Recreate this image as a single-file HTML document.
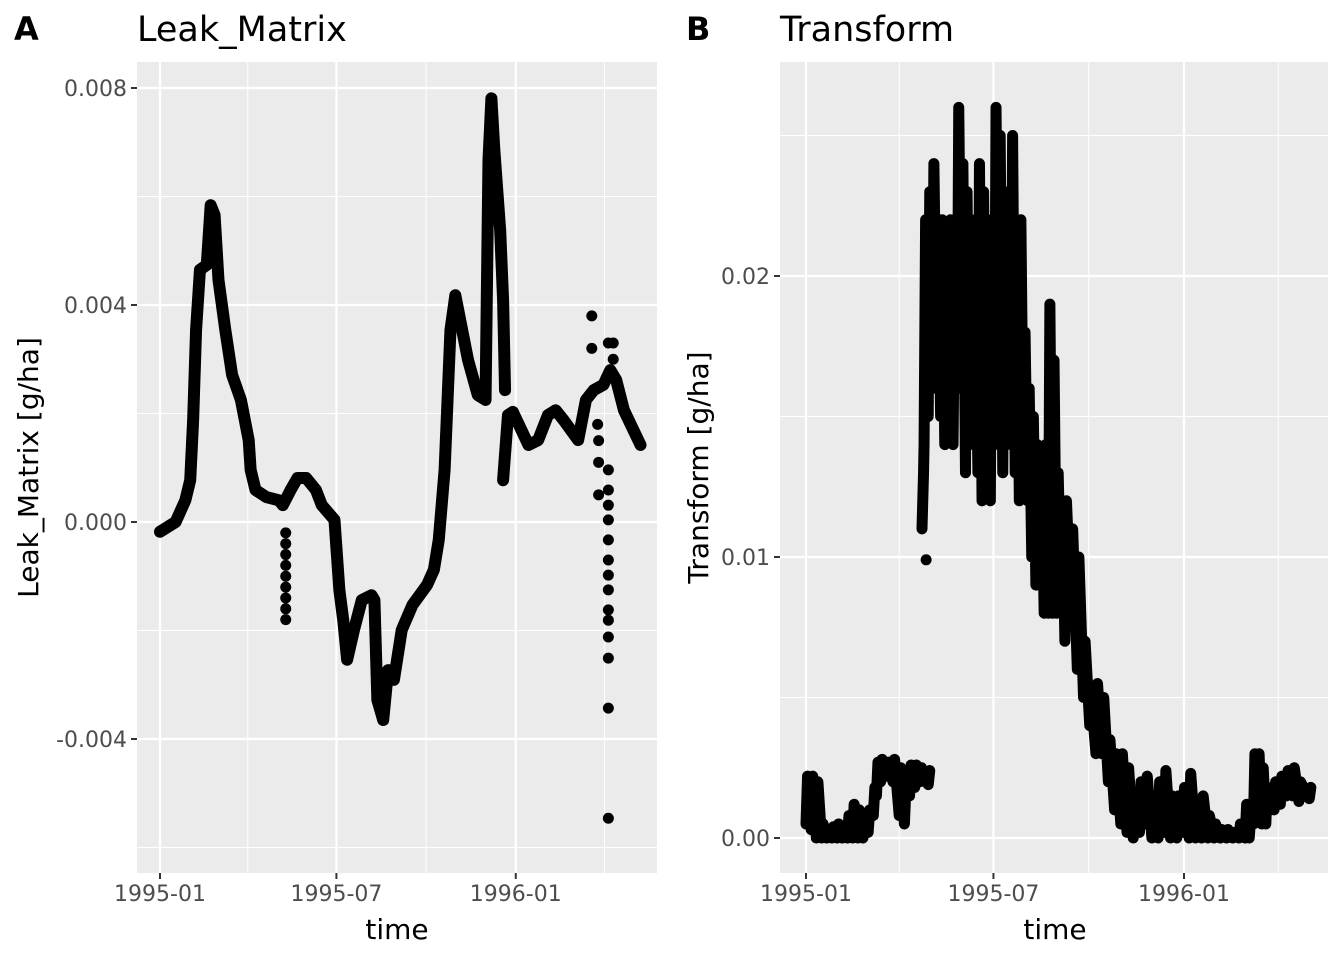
<!DOCTYPE html>
<html><head><meta charset="utf-8"><style>
body{margin:0;background:#fff;}
svg{display:block;font-family:"DejaVu Sans","Liberation Sans",sans-serif;}
</style></head><body>
<svg id="chart" width="1344" height="960"></svg>
<script>
// Panel A data
const aDays = [0,16,26,31,34,37,41,48,52,56,60,67,74,83,91,93,98,109,122,126,134,141,150,160,166,179,184,188,192,199,207,217,220,223,229,234,240,248,259,274,281,286,292,298,303,308,316,326,334,337,340,343,349,352,354];
const aVals = [-0.00018,0,0.0004,0.00077,0.00188,0.00354,0.00465,0.00474,0.00584,0.00566,0.00446,0.00354,0.00271,0.00225,0.00151,0.00096,0.00059,0.00046,0.0004,0.00031,0.00059,0.00081,0.00081,0.00059,0.00031,0.00004,-0.00125,-0.00181,-0.00254,-0.00199,-0.00144,-0.00135,-0.00144,-0.00328,-0.00365,-0.00273,-0.00291,-0.00199,-0.00153,-0.00116,-0.00088,-0.00033,0.00096,0.00354,0.00418,0.00372,0.00299,0.00234,0.00225,0.00667,0.00781,0.00686,0.00538,0.00409,0.00243];
const a2Days = [352,357,362,378,388,398,406,414,429,437,445,455,462,468,476,493];
const a2Vals = [0.00077,0.00197,0.00203,0.00142,0.00151,0.00197,0.00206,0.00188,0.00151,0.00225,0.00243,0.00253,0.0028,0.00262,0.00206,0.00142];
const aOutDays = [129,129,129,129,129,129,129,129,129,443,443,449,450,450,450,460,460,460,460,460,460,460,460,460,460,460,460,460,460,460,465,465];
const aOutVals = [-0.0002,-0.0004,-0.0006,-0.0008,-0.001,-0.0012,-0.0014,-0.0016,-0.0018,0.0032,0.0038,0.0018,0.0015,0.0011,0.0005,0.0033,0.00096,0.00059,0.00031,0.00004,-0.00033,-0.0007,-0.00098,-0.00125,-0.00162,-0.00181,-0.00212,-0.00251,-0.00343,-0.00546,0.0033,0.003];
const aYTicks = [-0.004,0,0.004,0.008];
const aYLabels = ["-0.004","0.000","0.004","0.008"];
const xTickDays = [0,181,365];
const xTickLabels = ["1995-01","1995-07","1996-01"];
// Panel B data
const bDays = [0,5,10,15,20,25,30,35,40,45,50,55,60,65,68,72,78,84,90,95,100,105,110,118];
const bLo = [0.0005,0.0003,0,0,0,0,0,0,0,0,0,0,0.0002,0.0008,0.0015,0.002,0.0022,0.002,0.0008,0.0005,0.0015,0.0018,0.002,0.0019];
const bHi = [0.0022,0.0022,0.002,0.0005,0.0003,0.0004,0.0005,0.0004,0.0008,0.0012,0.001,0.0008,0.001,0.0018,0.0027,0.0028,0.0027,0.0028,0.0025,0.0018,0.0026,0.0026,0.0025,0.0024];
const b2Days = [112,114,118,122,126,130,134,138,142,146,150,154,158,162,166,170,174,178,182,186,190,194,198,202,206,210,214,218,222,226,230,234,238,242,246,250,256,262,268,274,280,286,292,298,304,310,316,322,328,334,340,346,352,358,364,370,376,382,388,394,400,406,412,418,424,428,432,436,440,444,448,452,458,464,470,476,486];
const b2Lo = [0.011,0.014,0.015,0.016,0.017,0.015,0.014,0.016,0.014,0.016,0.017,0.013,0.014,0.015,0.013,0.012,0.013,0.012,0.014,0.015,0.013,0.014,0.015,0.013,0.012,0.013,0.012,0.010,0.009,0.009,0.008,0.008,0.008,0.008,0.009,0.007,0.008,0.006,0.005,0.004,0.003,0.003,0.002,0.001,0.0005,0.0002,0,0.0002,0.0005,0,0,0.0002,0,0,0.0002,0,0,0,0,0,0,0,0,0,0,0,0.0005,0.001,0.0005,0.0005,0.001,0.001,0.0012,0.0015,0.0015,0.0013,0.0014];
const b2Hi = [0.013,0.022,0.023,0.024,0.021,0.022,0.021,0.022,0.020,0.026,0.024,0.023,0.022,0.020,0.024,0.023,0.020,0.022,0.026,0.025,0.022,0.023,0.025,0.021,0.022,0.018,0.016,0.015,0.014,0.013,0.014,0.019,0.017,0.013,0.012,0.012,0.011,0.010,0.007,0.005,0.0055,0.005,0.0035,0.003,0.003,0.0025,0.0015,0.002,0.0022,0.0015,0.002,0.0024,0.0015,0.0015,0.0018,0.0023,0.001,0.0015,0.0008,0.0005,0.0003,0.0003,0.0002,0.0005,0.0012,0.0008,0.003,0.003,0.0025,0.0018,0.0015,0.002,0.0022,0.0024,0.0025,0.002,0.0018];
const bOutDays = [116];
const bOutVals = [0.0099];
const bYTicks = [0,0.01,0.02];
const bYLabels = ["0.00","0.01","0.02"];

const NS="http://www.w3.org/2000/svg";
const svg=document.getElementById('chart');
function mk(tag,attrs,parent){const e=document.createElementNS(NS,tag);for(const k in attrs)e.setAttribute(k,attrs[k]);(parent||svg).appendChild(e);return e;}

function panel(o){
  const g=mk('g',{});
  
  
  const L=o.left,R=o.right,T=62,B=873;
  const xs=d=>o.x0+d*o.xk;
  const ys=v=>o.y0-v*o.yk;
  const bg=mk('rect',{x:L,y:T,width:R-L,height:B-T,fill:'#ebebeb'},g);
  
  
  for(let i=-1;i<o.yTicks.length;i++){
    const base=i<0?o.yTicks[0]-o.yStep:o.yTicks[i];
    const y=ys(base+o.yStep/2);
    if(y>T&&y<B){const l=mk('line',{x1:L,x2:R,y1:y,y2:y,stroke:'#fff','stroke-width':1},g);}
  }
  [90,273,456].forEach(d=>{const x=xs(d);if(x<R){const l=mk('line',{x1:x,x2:x,y1:T,y2:B,stroke:'#fff','stroke-width':1},g);}});
  o.yTicks.forEach((v,i)=>{const y=ys(v);
    const l=mk('line',{x1:L,x2:R,y1:y,y2:y,stroke:'#fff','stroke-width':2.2},g);
    const tk=mk('line',{x1:L-6,x2:L,y1:y,y2:y,stroke:'#333','stroke-width':2},g);
    const t=mk('text',{x:L-10,y:y+8,'text-anchor':'end','font-size':22,fill:'#4d4d4d'},g);t.textContent=o.yLabels[i];});
  xTickDays.forEach((d,i)=>{const x=xs(d);
    const l=mk('line',{x1:x,x2:x,y1:T,y2:B,stroke:'#fff','stroke-width':2.2},g);
    const tk=mk('line',{x1:x,x2:x,y1:B,y2:B+6,stroke:'#333','stroke-width':2},g);
    const t=mk('text',{x:x,y:B+28,'text-anchor':'middle','font-size':22,fill:'#4d4d4d'},g);t.textContent=xTickLabels[i];});
  o.lines.forEach(s=>{
    const pts=s.map(p=>xs(p[0])+','+ys(p[1])).join(' ');
    const pl=mk('polyline',{points:pts,fill:'none',stroke:'#000','stroke-width':o.sw,'stroke-linejoin':'round','stroke-linecap':'round'},g);
    
    
  });
  o.points.forEach(p=>{const c=mk('circle',{cx:xs(p[0]),cy:ys(p[1]),r:5.5,fill:'#000'},g);
    
    });
  const tl=mk('text',{x:o.tagX,y:40,'font-size':32,'font-weight':'bold'},g);tl.textContent=o.tag;
  const tt=mk('text',{x:L,y:41,'font-size':35},g);tt.textContent=o.title;
  const xt=mk('text',{x:o.xtX,y:939,'text-anchor':'middle','font-size':28},g);xt.textContent='time';
  const yc=(T+B)/2;
  const yt=mk('text',{x:o.ytX,y:yc,'text-anchor':'middle','font-size':28,transform:`rotate(-90 ${o.ytX} ${yc})`},g);yt.textContent=o.ytitle;
}

const zip=(a,b)=>a.map((d,i)=>[d,b[i]]);
panel({name:'panel-a-leak-matrix',left:137,right:657,x0:160,xk:0.9747,y0:522,yk:54250,sw:12,xtX:397,
  yTicks:aYTicks,yLabels:aYLabels,yStep:0.004,tag:'A',tagX:14,title:'Leak_Matrix',ytitle:'Leak_Matrix [g/ha]',ytX:38,
  lines:[zip(aDays,aVals),zip(a2Days,a2Vals)],
  points:zip(aDays,aVals).concat(zip(a2Days,a2Vals),zip(aOutDays,aOutVals))});

function zig(days,lo,hi){const r=[];days.forEach((d,i)=>{r.push([d,lo[i]]);r.push([d+1.5,hi[i]]);});return r;}
panel({name:'panel-b-transform',left:780,right:1328,x0:806,xk:1.0356,y0:838,yk:28100,sw:11,xtX:1055,
  yTicks:bYTicks,yLabels:bYLabels,yStep:0.01,tag:'B',tagX:686,title:'Transform',ytitle:'Transform [g/ha]',ytX:708,
  lines:[zig(bDays,bLo,bHi),zig(b2Days,b2Lo,b2Hi)],
  points:zip(bOutDays,bOutVals)});
</script>
</body></html>
